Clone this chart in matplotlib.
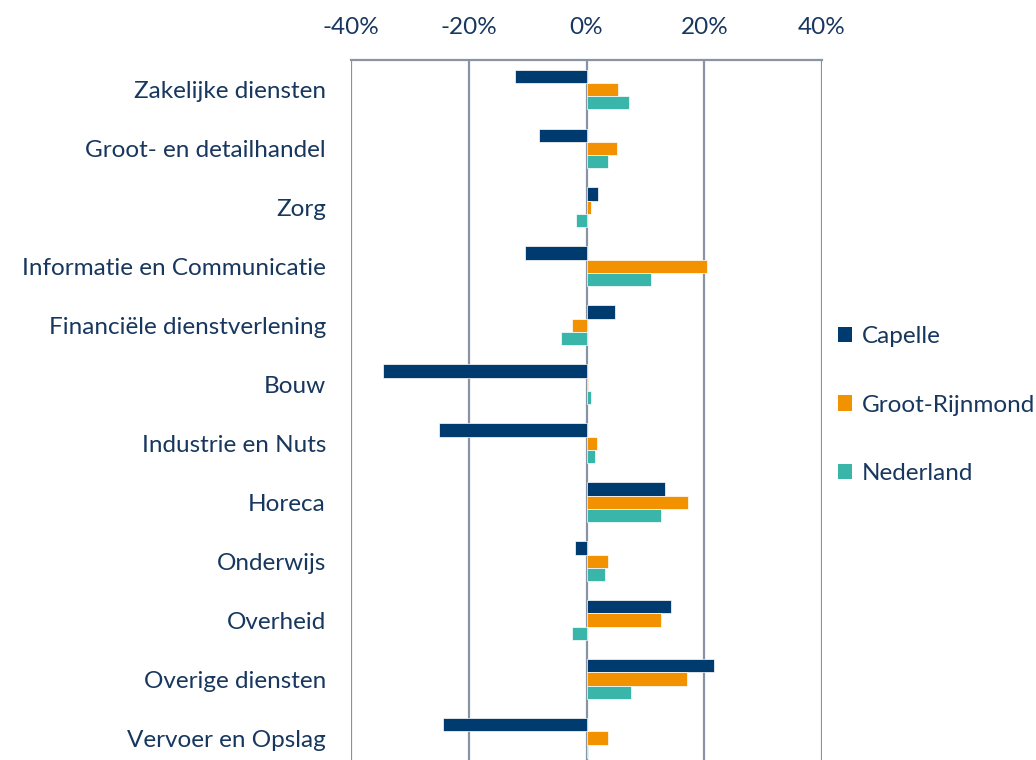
import numpy as np
import matplotlib
matplotlib.use("Agg")
import matplotlib.pyplot as plt
from matplotlib.patches import Patch
from matplotlib.ticker import FuncFormatter

# data (percentage change)
sectors = ["Zakelijke diensten", "Groot- en detailhandel", "Zorg",
           "Informatie en Communicatie", "Financiële dienstverlening", "Bouw",
           "Industrie en Nuts", "Horeca", "Onderwijs", "Overheid",
           "Overige diensten", "Vervoer en Opslag"]
capelle = [-12.2, -8.0, 1.9, -10.4, 4.8, -34.5, -25.1, 13.4, -1.9, 14.4, 21.6, -24.4]
groot_rijnmond = [5.4, 5.1, 0.8, 20.4, -2.5, 0.3, 1.7, 17.3, 3.7, 12.7, 17.0, 3.6]
nederland = [7.3, 3.7, -1.7, 10.9, -4.4, 0.7, 1.5, 12.6, 3.2, -2.4, 7.5, 0.3]
series_names = ["Capelle", "Groot-Rijnmond", "Nederland"]
x_ticks = [-40, -20, 0, 20, 40]

colors = ["#003B6F", "#F39200", "#3AB5A9"]
text_col = "#17375E"
grid_col = "#8A93A6"

plt.rcParams['font.family'] = ['Lato', 'DejaVu Sans']

fig = plt.figure(figsize=(10.36, 7.6), dpi=100)
# axes runs past the bottom edge, as in the cropped original
ax = fig.add_axes([351 / 1036, -7.5 / 760, 471 / 1036, 707.5 / 760])

y = np.arange(len(sectors))
h = 0.225
for k, vals in enumerate([capelle, groot_rijnmond, nederland]):
    ax.barh(y + (k - 1) * h, vals, height=h, color=colors[k],
            edgecolor="white", linewidth=0.5, zorder=3)

ax.set_xlim(-40, 40)
ax.set_ylim(len(sectors) - 0.5, -0.5)
ax.set_xticks(x_ticks)
ax.xaxis.set_major_formatter(FuncFormatter(lambda v, p: f"{v:.0f}%"))
ax.xaxis.tick_top()
ax.set_yticks(y)
ax.set_yticklabels(sectors)
ax.tick_params(axis="both", length=0, labelsize=17.5, colors=text_col)
ax.tick_params(axis="x", pad=16)
ax.tick_params(axis="y", pad=18)
ax.grid(axis="x", color=grid_col, linewidth=1.6, zorder=1)
for side in ["left", "right", "bottom"]:
    ax.spines[side].set_visible(False)
ax.spines["top"].set_color(grid_col)
ax.spines["top"].set_linewidth(1.6)

handles = [Patch(facecolor=c, edgecolor="none") for c in colors]
fig.legend(handles, series_names, loc="center left",
           bbox_to_anchor=(816 / 1036, 1 - 405 / 760), frameon=False,
           fontsize=17.5, labelcolor=text_col, handlelength=0.6,
           handleheight=0.6, handletextpad=0.4, labelspacing=1.95)

fig.savefig("out.png", dpi=100)
